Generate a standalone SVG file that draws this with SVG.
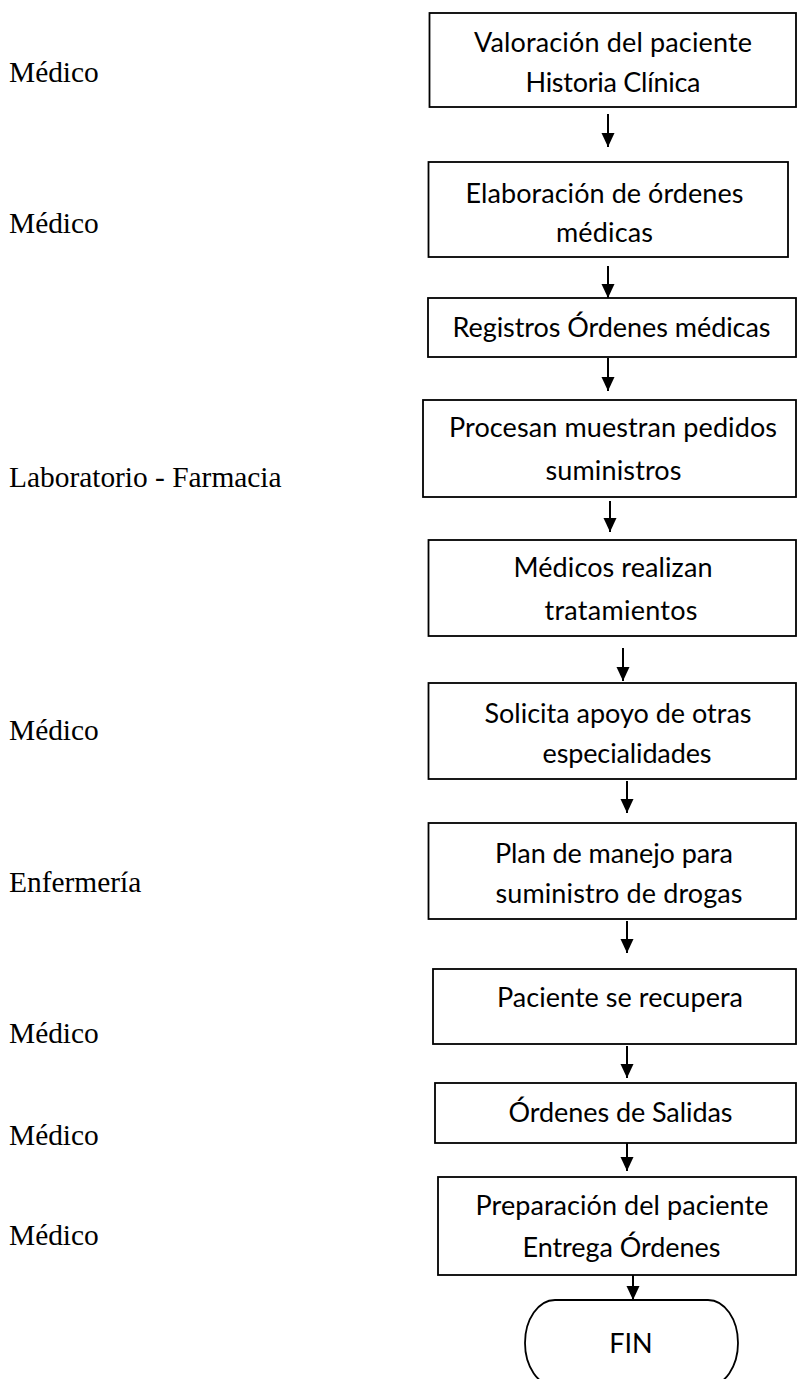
<svg xmlns="http://www.w3.org/2000/svg" width="798" height="1379" viewBox="0 0 798 1379">
<defs>
<style>
.bg{fill:#ffffff}
.box{fill:#ffffff;stroke:#000000;stroke-width:1.8}
.t{font-family:Lato,"Open Sans","Liberation Sans",sans-serif;font-size:27px;fill:#000000;text-anchor:middle}
.lbl{font-family:"Liberation Serif","Times New Roman",serif;font-size:29.4px;fill:#000000}
.con{stroke:#000000;stroke-width:2;fill:none;marker-end:url(#ah)}
</style>
<marker id="ah" markerUnits="userSpaceOnUse" viewBox="0 -7 14 14" refX="14" refY="0" markerWidth="14" markerHeight="14" orient="auto">
<path d="M0,-6.5 L14,0 L0,6.5 Z" fill="#000000"/>
</marker>
</defs>
<rect class="bg" x="0" y="0" width="798" height="1379"/>
<g id="labels">
<text class="lbl" x="9" y="82">Médico</text>
<text class="lbl" x="9" y="233">Médico</text>
<text class="lbl" x="9" y="487">Laboratorio - Farmacia</text>
<text class="lbl" x="9" y="740">Médico</text>
<text class="lbl" x="9" y="892">Enfermería</text>
<text class="lbl" x="9" y="1043">Médico</text>
<text class="lbl" x="9" y="1145">Médico</text>
<text class="lbl" x="9" y="1245">Médico</text>
</g>
<g id="connectors">
<line class="con" x1="608" y1="114" x2="608" y2="147"/>
<line class="con" x1="608" y1="266" x2="608" y2="298"/>
<line class="con" x1="608" y1="358" x2="608" y2="391"/>
<line class="con" x1="610" y1="501" x2="610" y2="532"/>
<line class="con" x1="623" y1="648" x2="623" y2="681"/>
<line class="con" x1="627" y1="781" x2="627" y2="813"/>
<line class="con" x1="627" y1="921" x2="627" y2="953"/>
<line class="con" x1="627" y1="1046" x2="627" y2="1078"/>
<line class="con" x1="627" y1="1139" x2="627" y2="1171"/>
<line class="con" x1="633" y1="1275" x2="633" y2="1300"/>
</g>
<g id="n1">
<rect class="box" x="429.5" y="13" width="366.5" height="94"/>
<text class="t" x="613" y="52" textLength="278">Valoración del paciente</text>
<text class="t" x="613" y="92" textLength="175">Historia Clínica</text>
</g>
<g id="n2">
<rect class="box" x="428.5" y="162" width="359.5" height="95"/>
<text class="t" x="604.5" y="203" textLength="278">Elaboración de órdenes</text>
<text class="t" x="604.5" y="242" textLength="97">médicas</text>
</g>
<g id="n3">
<rect class="box" x="428" y="298" width="368" height="59"/>
<text class="t" x="611.5" y="337" textLength="318">Registros Órdenes médicas</text>
</g>
<g id="n4">
<rect class="box" x="423" y="400" width="373" height="97"/>
<text class="t" x="613" y="437" textLength="328">Procesan muestran pedidos</text>
<text class="t" x="613.5" y="480" textLength="136">suministros</text>
</g>
<g id="n5">
<rect class="box" x="428.5" y="540" width="367.5" height="96"/>
<text class="t" x="613" y="577" textLength="199">Médicos realizan</text>
<text class="t" x="621" y="620" textLength="153">tratamientos</text>
</g>
<g id="n6">
<rect class="box" x="428.5" y="683" width="367.5" height="96"/>
<text class="t" x="618" y="723" textLength="267">Solicita apoyo de otras</text>
<text class="t" x="627" y="763" textLength="169">especialidades</text>
</g>
<g id="n7">
<rect class="box" x="428.5" y="823" width="367.5" height="96"/>
<text class="t" x="614" y="863" textLength="238">Plan de manejo para</text>
<text class="t" x="619" y="903" textLength="247">suministro de drogas</text>
</g>
<g id="n8">
<rect class="box" x="433" y="969" width="363" height="75"/>
<text class="t" x="620" y="1007" textLength="246">Paciente se recupera</text>
</g>
<g id="n9">
<rect class="box" x="435" y="1083" width="361" height="60"/>
<text class="t" x="620.5" y="1122" textLength="224">Órdenes de Salidas</text>
</g>
<g id="n10">
<rect class="box" x="438" y="1177" width="358" height="98"/>
<text class="t" x="622" y="1215" textLength="293">Preparación del paciente</text>
<text class="t" x="621.5" y="1257" textLength="198">Entrega Órdenes</text>
</g>
<g id="fin">
<rect class="box" x="525" y="1300" width="213" height="86" rx="30" ry="43"/>
<text class="t" x="631" y="1353">FIN</text>
</g>
</svg>
